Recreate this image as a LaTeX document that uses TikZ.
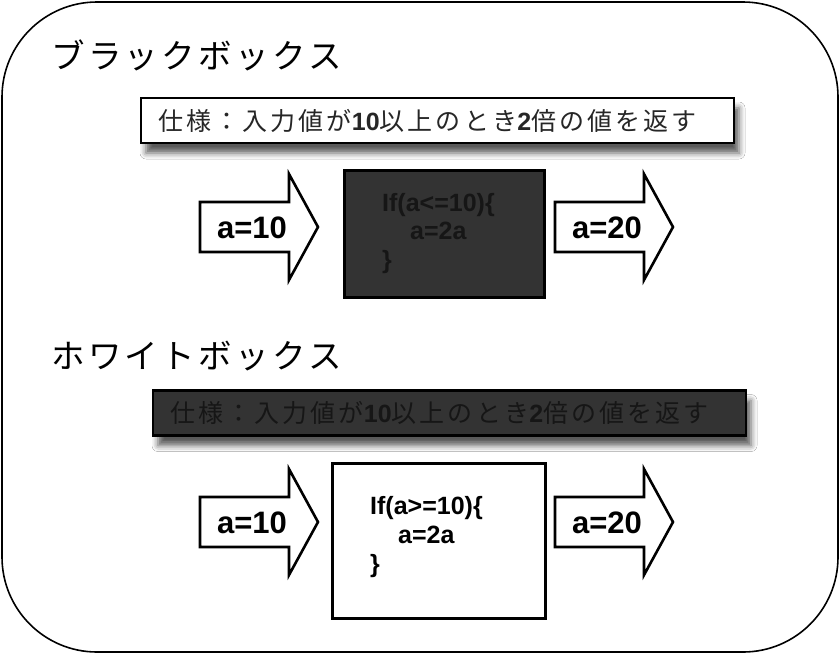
\documentclass[tikz,border=0pt]{standalone}
\usepackage{fontspec}
\usetikzlibrary{shadows.blur}
\newfontfamily\jptitle[LetterSpace=10]{Noto Sans CJK JP}
\newfontfamily\jpspec[LetterSpace=12.5]{Noto Sans CJK JP}
\newfontfamily\arialf{Liberation Sans}
\definecolor{dk}{HTML}{333333}
\definecolor{dktext}{HTML}{161616}
\definecolor{spectext}{HTML}{262626}
\newcommand\spectext{{\jpspec 仕様：入力値が}{\arialf\bfseries 10}{\jpspec 以上のとき}{\arialf\bfseries 2}{\jpspec 倍の値を返す}}
\newcommand\bigarrowat[1]{\draw[arrowshape,shift={#1}] (0,-25) -- (89,-25) -- (89,-53) -- (118,0) -- (89,53) -- (89,25) -- (0,25) -- cycle;}
\tikzset{
  arrowshape/.style={draw=black,fill=white,line width=2.6pt,line join=miter},
  specbox/.style={draw=black,line width=2.4pt,minimum width=593pt,minimum height=45pt,inner sep=0pt,
    blur shadow={shadow xshift=5pt,shadow yshift=-10pt,shadow blur radius=6pt,shadow opacity=65}},
  codebox/.style={draw=black,line width=3pt,inner sep=0pt},
  titletext/.style={anchor=west,inner sep=0pt,font=\jptitle\fontsize{33.5}{36}\selectfont},
  spectxt/.style={anchor=west,inner sep=0pt,font=\fontsize{25}{28}\selectfont},
  arrowlabel/.style={inner sep=0pt,font=\arialf\bfseries\fontsize{31}{33}\selectfont},
  codeline/.style={anchor=base west,inner sep=0pt,font=\arialf\bfseries\fontsize{25}{28}\selectfont},
}
\begin{document}
\begin{tikzpicture}[x=1pt,y=-1pt]
\useasboundingbox (0,0) rectangle (840,654);
\fill[white] (0,0) rectangle (840,654);
% outer frame
\draw[line width=1.6pt,rounded corners=95pt] (2,2) rectangle (838,652);

% ---------- black box ----------
\node[titletext] (t1) at (51,55) {ブラックボックス};
\node[specbox,fill=white] (spec1) at (437.5,120.5) {};
\node[spectxt,text=spectext] (s1) at (158,120.5) {\spectext};

\bigarrowat{(200,227)}
\node[arrowlabel] (in1) at (252,228) {a=10};
\node[codebox,fill=dk,minimum width=200pt,minimum height=127pt] (box1) at (444,234) {};
\node[codeline,text=dktext] (c11) at (382,211) {If(a<=10)\{};
\node[codeline,text=dktext] (c12) at (410,239) {a=2a};
\node[codeline,text=dktext] (c13) at (382,268) {\}};
\bigarrowat{(555,227)}
\node[arrowlabel] (out1) at (607,228) {a=20};

% ---------- white box ----------
\node[titletext] (t2) at (51,356) {ホワイトボックス};
\node[specbox,fill=dk] (spec2) at (449.5,413) {};
\node[spectxt,text=dktext] (s2) at (170,413) {\spectext};

\bigarrowat{(200,522)}
\node[arrowlabel] (in2) at (252,523) {a=10};
\node[codebox,fill=white,minimum width=213pt,minimum height=155pt] (box2) at (438.5,540.5) {};
\node[codeline] (c21) at (370,514) {If(a>=10)\{};
\node[codeline] (c22) at (398,543) {a=2a};
\node[codeline] (c23) at (370,572) {\}};
\bigarrowat{(555,522)}
\node[arrowlabel] (out2) at (607,523) {a=20};
\end{tikzpicture}
\end{document}
